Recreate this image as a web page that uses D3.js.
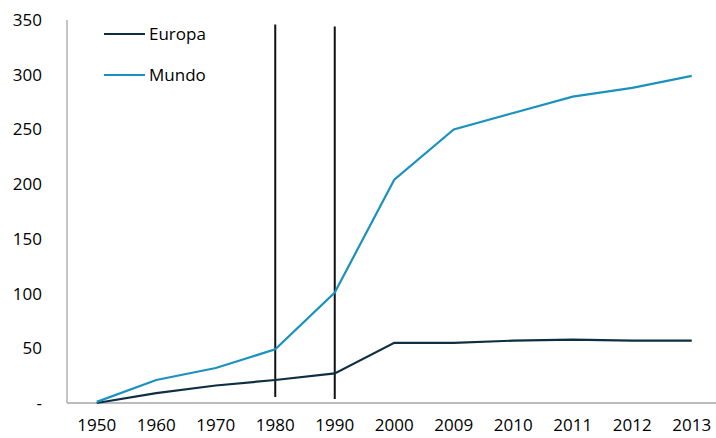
<!DOCTYPE html>
<html>
<head>
<meta charset="utf-8">
<script src="https://cdn.jsdelivr.net/npm/d3@7"></script>
<style>
  body { margin: 0; background: #fff; }
  text { font-family: "Open Sans", sans-serif; fill: #000; }
</style>
</head>
<body>
<div id="chart"></div>
<script>
// data
var years = ["1950", "1960", "1970", "1980", "1990", "2000", "2009", "2010", "2011", "2012", "2013"]
var europa = [0, 9, 16, 21, 27, 55, 55, 57, 58, 57, 57]
var mundo = [1, 21, 32, 49, 101, 204, 250, 265, 280, 288, 299]
var yTicks = [0, 50, 100, 150, 200, 250, 300, 350]
var markYears = ["1980", "1990"]

var width = 716
    height = 438

var svg = d3.select("#chart")
  .append("svg")
    .attr("width", width)
    .attr("height", height)

var x = d3.scalePoint()
  .domain(years)
  .range([67, 721.5])
  .padding(0.5)

var y = d3.scaleLinear()
  .domain([0, 350])
  .range([403, 20])

// axes
svg.append("line")
  .attr("x1", 67).attr("x2", 67)
  .attr("y1", y(350)).attr("y2", y(0))
  .attr("stroke", "#a6a6a6").attr("stroke-width", 1.3)

svg.append("line")
  .attr("x1", 67).attr("x2", width)
  .attr("y1", y(0)).attr("y2", y(0))
  .attr("stroke", "#a6a6a6").attr("stroke-width", 1.5)

svg.selectAll("yLabels")
  .data(yTicks).enter()
  .append("text")
    .attr("x", 42)
    .attr("y", function(d) { return y(d) })
    .attr("dy", "0.35em")
    .style("text-anchor", "end")
    .style("font-size", "17px")
    .text(function(d) { return d === 0 ? "-" : d })

svg.selectAll("xLabels")
  .data(years).enter()
  .append("text")
    .attr("x", function(d) { return x(d) })
    .attr("y", 431)
    .style("text-anchor", "middle")
    .style("font-size", "17px")
    .text(function(d) { return d })

// vertical markers
svg.selectAll("marks")
  .data(markYears).enter()
  .append("line")
    .attr("x1", function(d) { return x(d) })
    .attr("x2", function(d) { return x(d) })
    .attr("y1", function(d, i) { return y(346) + i * 2 })
    .attr("y2", function(d, i) { return y(5.5) + i * 2 })
    .attr("stroke", "#111")
    .attr("stroke-width", 2)

var series = [
  { name: "Europa", values: europa, color: "#0e2f42" },
  { name: "Mundo", values: mundo, color: "#1a92be" }
]

var line = d3.line()
  .x(function(d, i) { return x(years[i]) })
  .y(function(d) { return y(d) })

svg.selectAll("series")
  .data(series).enter()
  .append("path")
    .attr("d", function(d) { return line(d.values) })
    .attr("fill", "none")
    .attr("stroke", function(d) { return d.color })
    .attr("stroke-width", 2.2)

// legend
var legend = svg.selectAll("legend")
  .data(series).enter()
  .append("g")
    .attr("transform", function(d, i) { return "translate(104," + (34 + i * 41) + ")" })

legend.append("line")
  .attr("x1", 0).attr("x2", 41)
  .attr("stroke", function(d) { return d.color })
  .attr("stroke-width", 2.2)

legend.append("text")
  .attr("x", 45)
  .attr("dy", "0.35em")
  .style("font-size", "17px")
  .text(function(d) { return d.name })
</script>
</body>
</html>
